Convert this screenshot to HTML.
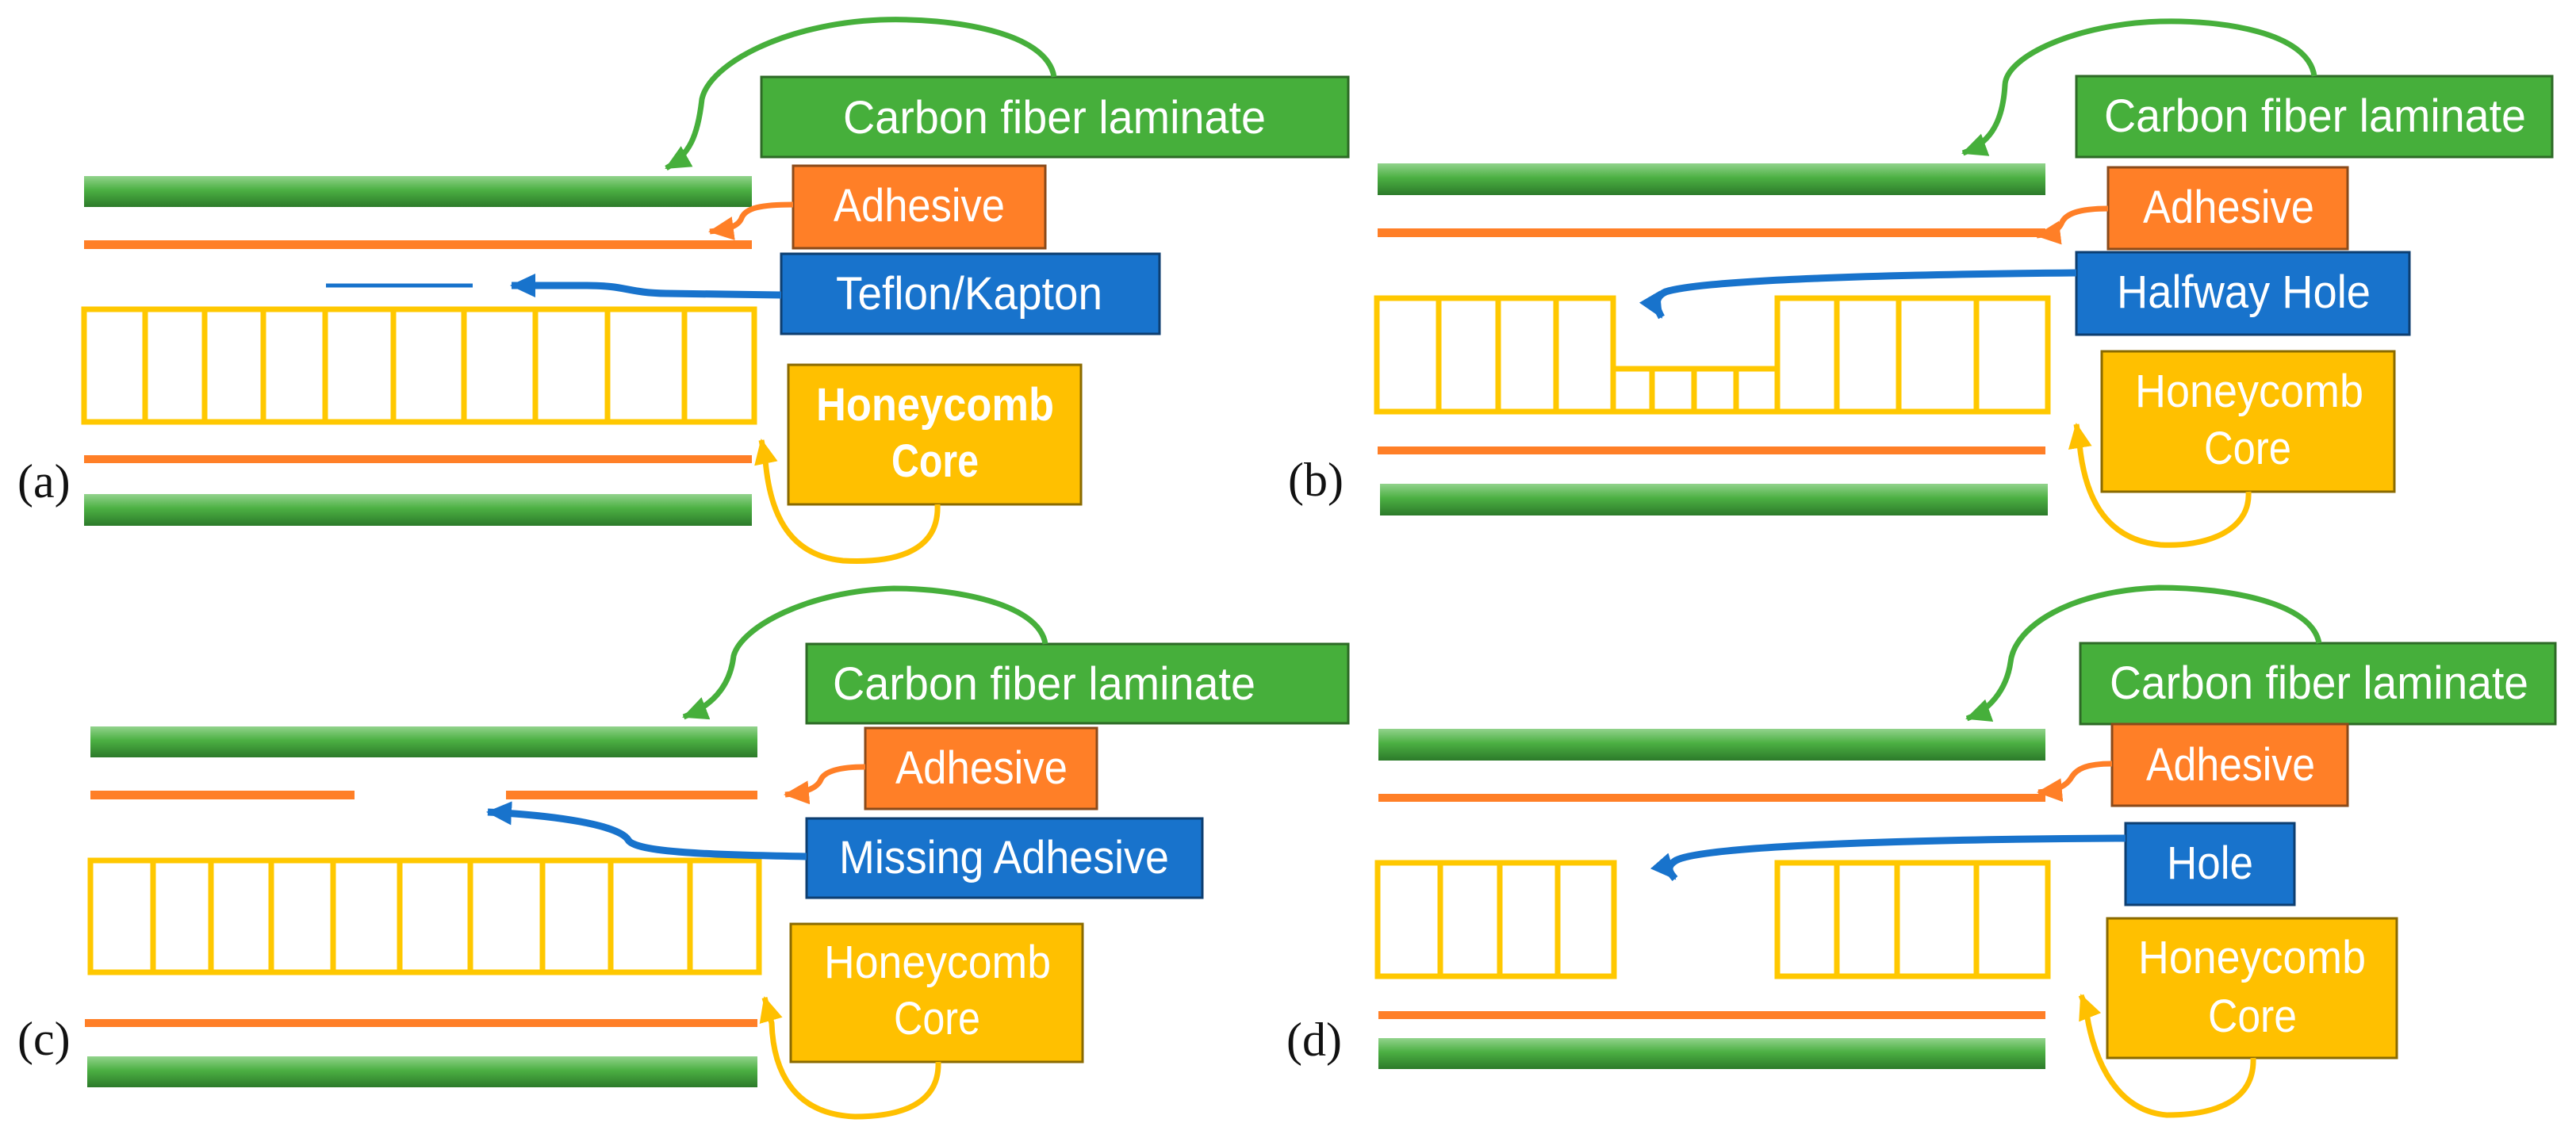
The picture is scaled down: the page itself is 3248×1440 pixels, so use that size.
<!DOCTYPE html>
<html><head><meta charset="utf-8"><style>
html,body{margin:0;padding:0;background:#fff}
svg{display:block}
.lbl{font-family:"Liberation Sans",sans-serif;font-size:58px;fill:#fff}
.pl{font-family:"Liberation Serif",serif;font-size:60px;fill:#111}
</style></head><body>
<svg width="3248" height="1440" viewBox="0 0 3248 1440" xmlns="http://www.w3.org/2000/svg">
<defs>
<linearGradient id="gb" x1="0" y1="0" x2="0" y2="1">
<stop offset="0" stop-color="#92d38c"/><stop offset="0.45" stop-color="#4cb043"/><stop offset="1" stop-color="#2c7a2a"/>
</linearGradient>
<marker id="mg" markerUnits="userSpaceOnUse" markerWidth="40" markerHeight="40" refX="30" refY="15" orient="auto"><path d="M0,0 L32,15 L0,30 Z" fill="#46af3b"/></marker>
<marker id="mo" markerUnits="userSpaceOnUse" markerWidth="40" markerHeight="40" refX="30" refY="15" orient="auto"><path d="M0,0 L32,15 L0,30 Z" fill="#ff7f27"/></marker>
<marker id="mb" markerUnits="userSpaceOnUse" markerWidth="40" markerHeight="40" refX="30" refY="15" orient="auto"><path d="M0,0 L32,15 L0,30 Z" fill="#1873cc"/></marker>
<marker id="my" markerUnits="userSpaceOnUse" markerWidth="40" markerHeight="40" refX="30" refY="15" orient="auto"><path d="M0,0 L32,15 L0,30 Z" fill="#ffc000"/></marker>
</defs>
<rect width="3248" height="1440" fill="#fff"/>

<!-- ===== Panel (a) ===== -->
<rect x="106" y="222" width="842" height="39" fill="url(#gb)"/>
<rect x="106" y="303" width="842" height="11" fill="#ff7f27"/>
<line x1="411" y1="360" x2="596" y2="360" stroke="#1873cc" stroke-width="5"/>
<g stroke="#ffc800" stroke-width="7" fill="none">
<rect x="106" y="390" width="845" height="142"/>
<path d="M183,390V532M258,390V532M332,390V532M410,390V532M496,390V532M585,390V532M675,390V532M766,390V532M863,390V532"/>
</g>
<rect x="106" y="574" width="842" height="10" fill="#ff7f27"/>
<rect x="106" y="623" width="842" height="40" fill="url(#gb)"/>
<text class="pl" x="22" y="627">(a)</text>

<rect x="960" y="97" width="740" height="101" fill="#46af3b" stroke="#2d6a26" stroke-width="3"/>
<text class="lbl" x="1063" y="168" textLength="533" lengthAdjust="spacingAndGlyphs">Carbon fiber laminate</text>
<rect x="1000" y="209" width="318" height="104" fill="#ff7f27" stroke="#8a4a1a" stroke-width="3"/>
<text class="lbl" x="1051" y="279" textLength="216" lengthAdjust="spacingAndGlyphs">Adhesive</text>
<rect x="985" y="320" width="477" height="101" fill="#1873cc" stroke="#0d3e70" stroke-width="3"/>
<text class="lbl" x="1054" y="390" textLength="336" lengthAdjust="spacingAndGlyphs">Teflon/Kapton</text>
<rect x="994" y="460" width="369" height="176" fill="#ffc000" stroke="#8a6a00" stroke-width="3"/>
<text class="lbl" x="1029" y="530" font-weight="bold" textLength="300" lengthAdjust="spacingAndGlyphs">Honeycomb</text>
<text class="lbl" x="1124" y="601" font-weight="bold" textLength="110" lengthAdjust="spacingAndGlyphs">Core</text>

<g fill="none" stroke-width="7">
<path d="M1329,97 C1320,40 1200,22 1110,25 C990,30 895,80 885,125 C880,170 870,195 840,212" stroke="#46af3b" marker-end="url(#mg)"/>
<path d="M1000,258 C960,258 940,262 935,275 C930,288 910,290 895,292" stroke="#ff7f27" marker-end="url(#mo)"/>
<path d="M985,372 L840,370 C790,369 790,360 740,360 L645,360" stroke="#1873cc" stroke-width="9" marker-end="url(#mb)"/>
<path d="M1182,636 C1185,700 1120,710 1063,707 C990,700 970,640 965,580 L960,555" stroke="#ffc000" marker-end="url(#my)"/>
</g>

<!-- ===== Panel (b) ===== -->
<rect x="1737" y="206" width="842" height="40" fill="url(#gb)"/>
<rect x="1737" y="288" width="842" height="11" fill="#ff7f27"/>
<g stroke="#ffc800" stroke-width="7" fill="none">
<path d="M1736,376 H2034 V465 H2241 V376 H2582 V519 H1736 Z"/>
<path d="M1814,376V519M1889,376V519M1962,376V519M2034,376V519M2083,465V519M2136,465V519M2189,465V519M2241,465V519M2316,376V519M2394,376V519M2492,376V519"/>
</g>
<rect x="1737" y="563" width="842" height="10" fill="#ff7f27"/>
<rect x="1740" y="610" width="842" height="40" fill="url(#gb)"/>
<text class="pl" x="1624" y="625">(b)</text>

<rect x="2618" y="96" width="600" height="102" fill="#46af3b" stroke="#2d6a26" stroke-width="3"/>
<text class="lbl" x="2653" y="166" textLength="532" lengthAdjust="spacingAndGlyphs">Carbon fiber laminate</text>
<rect x="2658" y="211" width="302" height="103" fill="#ff7f27" stroke="#8a4a1a" stroke-width="3"/>
<text class="lbl" x="2702" y="281" textLength="216" lengthAdjust="spacingAndGlyphs">Adhesive</text>
<rect x="2618" y="318" width="420" height="104" fill="#1873cc" stroke="#0d3e70" stroke-width="3"/>
<text class="lbl" x="2669" y="388" textLength="320" lengthAdjust="spacingAndGlyphs">Halfway Hole</text>
<rect x="2650" y="443" width="369" height="177" fill="#ffc000" stroke="#8a6a00" stroke-width="3"/>
<text class="lbl" x="2692" y="513" textLength="288" lengthAdjust="spacingAndGlyphs">Honeycomb</text>
<text class="lbl" x="2779" y="585" textLength="110" lengthAdjust="spacingAndGlyphs">Core</text>

<g fill="none" stroke-width="7">
<path d="M2918,96 C2910,40 2800,25 2724,27 C2620,30 2530,70 2528,107 C2525,160 2505,182 2475,193" stroke="#46af3b" marker-end="url(#mg)"/>
<path d="M2658,263 C2620,263 2605,270 2600,280 C2595,292 2585,295 2568,297" stroke="#ff7f27" marker-end="url(#mo)"/>
<path d="M2618,344 C2400,346 2150,352 2100,368 C2085,375 2088,388 2095,400" stroke="#1873cc" stroke-width="9" marker-end="url(#mb)"/>
<path d="M2835,620 C2838,670 2780,690 2724,687 C2650,680 2628,620 2622,560 L2618,535" stroke="#ffc000" marker-end="url(#my)"/>
</g>

<!-- ===== Panel (c) ===== -->
<rect x="114" y="916" width="841" height="39" fill="url(#gb)"/>
<rect x="114" y="997" width="333" height="11" fill="#ff7f27"/>
<rect x="638" y="997" width="317" height="11" fill="#ff7f27"/>
<g stroke="#ffc800" stroke-width="7" fill="none">
<rect x="114" y="1085" width="843" height="141"/>
<path d="M193,1085V1226M266,1085V1226M342,1085V1226M420,1085V1226M504,1085V1226M593,1085V1226M684,1085V1226M770,1085V1226M870,1085V1226"/>
</g>
<rect x="107" y="1285" width="848" height="10" fill="#ff7f27"/>
<rect x="110" y="1332" width="845" height="39" fill="url(#gb)"/>
<text class="pl" x="22" y="1330">(c)</text>

<rect x="1017" y="812" width="683" height="100" fill="#46af3b" stroke="#2d6a26" stroke-width="3"/>
<text class="lbl" x="1050" y="882" textLength="533" lengthAdjust="spacingAndGlyphs">Carbon fiber laminate</text>
<rect x="1091" y="918" width="292" height="102" fill="#ff7f27" stroke="#8a4a1a" stroke-width="3"/>
<text class="lbl" x="1129" y="988" textLength="217" lengthAdjust="spacingAndGlyphs">Adhesive</text>
<rect x="1017" y="1032" width="499" height="100" fill="#1873cc" stroke="#0d3e70" stroke-width="3"/>
<text class="lbl" x="1058" y="1101" textLength="416" lengthAdjust="spacingAndGlyphs">Missing Adhesive</text>
<rect x="997" y="1165" width="368" height="174" fill="#ffc000" stroke="#8a6a00" stroke-width="3"/>
<text class="lbl" x="1039" y="1233" textLength="286" lengthAdjust="spacingAndGlyphs">Honeycomb</text>
<text class="lbl" x="1127" y="1304" textLength="109" lengthAdjust="spacingAndGlyphs">Core</text>

<g fill="none" stroke-width="7">
<path d="M1318,812 C1310,760 1200,742 1127,742 C1020,745 935,790 925,827 C920,870 893,892 862,904" stroke="#46af3b" marker-end="url(#mg)"/>
<path d="M1091,967 C1060,967 1040,972 1035,983 C1030,995 1012,1000 990,1002" stroke="#ff7f27" marker-end="url(#mo)"/>
<path d="M1017,1080 C900,1078 800,1075 792,1059 C780,1040 700,1028 615,1024" stroke="#1873cc" stroke-width="9" marker-end="url(#mb)"/>
<path d="M1183,1339 C1185,1395 1130,1408 1078,1408 C1000,1405 975,1350 973,1290 L964,1258" stroke="#ffc000" marker-end="url(#my)"/>
</g>

<!-- ===== Panel (d) ===== -->
<rect x="1738" y="919" width="841" height="40" fill="url(#gb)"/>
<rect x="1738" y="1001" width="841" height="10" fill="#ff7f27"/>
<g stroke="#ffc800" stroke-width="7" fill="none">
<rect x="1737" y="1088" width="298" height="143"/>
<path d="M1816,1088V1231M1891,1088V1231M1964,1088V1231"/>
<rect x="2241" y="1088" width="341" height="143"/>
<path d="M2316,1088V1231M2392,1088V1231M2492,1088V1231"/>
</g>
<rect x="1738" y="1275" width="841" height="10" fill="#ff7f27"/>
<rect x="1738" y="1309" width="841" height="39" fill="url(#gb)"/>
<text class="pl" x="1622" y="1331">(d)</text>

<rect x="2623" y="811" width="599" height="102" fill="#46af3b" stroke="#2d6a26" stroke-width="3"/>
<text class="lbl" x="2660" y="881" textLength="528" lengthAdjust="spacingAndGlyphs">Carbon fiber laminate</text>
<rect x="2663" y="913" width="297" height="103" fill="#ff7f27" stroke="#8a4a1a" stroke-width="3"/>
<text class="lbl" x="2706" y="984" textLength="213" lengthAdjust="spacingAndGlyphs">Adhesive</text>
<rect x="2680" y="1038" width="213" height="103" fill="#1873cc" stroke="#0d3e70" stroke-width="3"/>
<text class="lbl" x="2732" y="1108" textLength="109" lengthAdjust="spacingAndGlyphs">Hole</text>
<rect x="2657" y="1158" width="365" height="176" fill="#ffc000" stroke="#8a6a00" stroke-width="3"/>
<text class="lbl" x="2696" y="1227" textLength="287" lengthAdjust="spacingAndGlyphs">Honeycomb</text>
<text class="lbl" x="2784" y="1301" textLength="112" lengthAdjust="spacingAndGlyphs">Core</text>

<g fill="none" stroke-width="7">
<path d="M2924,811 C2915,760 2810,741 2722,741 C2610,745 2540,790 2535,835 C2530,870 2508,896 2480,906" stroke="#46af3b" marker-end="url(#mg)"/>
<path d="M2663,963 C2630,963 2618,970 2612,980 C2605,992 2592,997 2570,999" stroke="#ff7f27" marker-end="url(#mo)"/>
<path d="M2680,1057 C2450,1058 2150,1065 2113,1085 C2100,1093 2105,1100 2112,1108" stroke="#1873cc" stroke-width="9" marker-end="url(#mb)"/>
<path d="M2841,1334 C2843,1390 2790,1406 2732,1406 C2660,1400 2636,1320 2630,1270 L2624,1255" stroke="#ffc000" marker-end="url(#my)"/>
</g>
</svg>
</body></html>
